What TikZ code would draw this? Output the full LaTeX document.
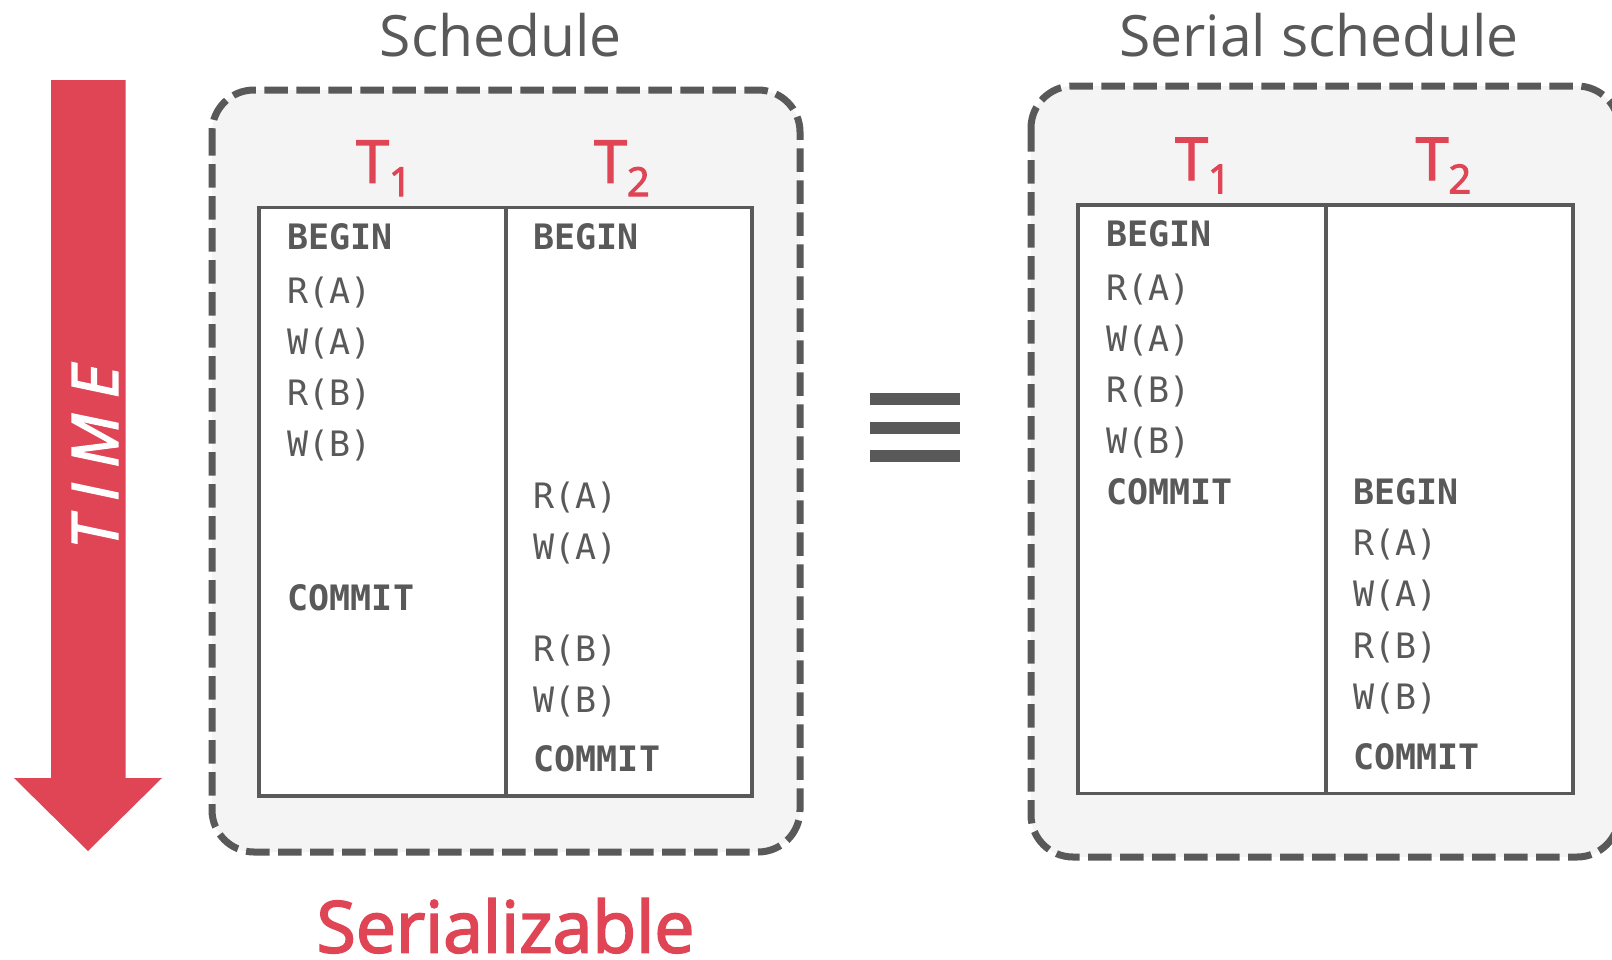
\documentclass[tikz,border=0pt]{standalone}
\usepackage{fontspec}
\setmainfont{Open Sans}
\newfontfamily\semibfont{Open Sans}[FakeBold=2.5]
\newfontfamily\monofont{DejaVu Sans Mono}
\definecolor{dbred}{RGB}{224,69,86}
\definecolor{dbgray}{RGB}{89,89,89}
\definecolor{dbfill}{RGB}{244,244,244}
\begin{document}
\begin{tikzpicture}[x=1pt,y=-1pt,
  schedbox/.style={draw=dbgray, fill=dbfill, line width=7pt, dash pattern=on 23.5pt off 8.5pt, rounded corners=42pt},
  tbl/.style={draw=dbgray, line width=3.5pt},
  op/.style={anchor=base west, inner sep=0pt, text=dbgray, font=\monofont\fontsize{35}{35}\selectfont},
  kw/.style={op, font=\monofont\bfseries\fontsize{35}{35}\selectfont},
  tlabel/.style={anchor=base, inner sep=0pt, text=dbred, font=\semibfont\fontsize{59}{59}\selectfont},
  title/.style={anchor=base, inner sep=0pt, text=dbgray, font=\fontsize{57}{57}\selectfont},
  eqbar/.style={fill=dbgray}
]
\useasboundingbox (0,0) rectangle (1612,959);
\clip (0,0) rectangle (1612,959);
\fill[white] (0,0) rectangle (1612,959);

% time arrow
\fill[dbred] (51,80) -- (125.5,80) -- (125.5,778) -- (162,778) -- (88,851) -- (14,778) -- (51,778) -- cycle;
\node[rotate=90, text=white, inner sep=0pt, font=\semibfont\itshape\fontsize{64}{64}\selectfont] (time) at (95,457) {T\hspace{16pt}I\hspace{16pt}M\hspace{16pt}E};

% left schedule
\node[title] (lt) at (500.6,56.5) {Schedule};
\draw[schedbox] (212,90) rectangle (800,852);
\draw[tbl, fill=white] (259,207.5) rectangle (752,796);
\draw[tbl] (506,207.5) -- (506,796);
\node[tlabel] (lT1) at (384,182.7) {T\raisebox{-13.3pt}{\fontsize{40}{40}\selectfont 1}};
\node[tlabel] (lT2) at (622,182.7) {T\raisebox{-13.3pt}{\fontsize{40}{40}\selectfont 2}};

\node[kw] (la1) at (287.5,249.3) {BEGIN};
\node[op] (la2) at (287.5,303.3) {R(A)};
\node[op] (la3) at (287.5,354.3) {W(A)};
\node[op] (la4) at (287.5,405.3) {R(B)};
\node[op] (la5) at (287.5,456.3) {W(B)};
\node[kw] (la6) at (287.5,610) {COMMIT};

\node[kw] (lb1) at (533.5,249.3) {BEGIN};
\node[op] (lb2) at (533.5,508) {R(A)};
\node[op] (lb3) at (533.5,559) {W(A)};
\node[op] (lb4) at (533.5,661.5) {R(B)};
\node[op] (lb5) at (533.5,712.5) {W(B)};
\node[kw] (lb6) at (533.5,771.5) {COMMIT};

% equivalence
\fill[eqbar] (870,393) rectangle (960,405);
\fill[eqbar] (870,421.5) rectangle (960,433.5);
\fill[eqbar] (870,450) rectangle (960,462);

% right schedule
\node[title] (rt) at (1319,56) {Serial schedule};
\draw[schedbox] (1031,86) rectangle (1619,857);
\draw[tbl, fill=white] (1078,205) rectangle (1573,793.3);
\draw[tbl] (1326,205) -- (1326,793.3);
\node[tlabel] (rT1) at (1203,180) {T\raisebox{-13.3pt}{\fontsize{40}{40}\selectfont 1}};
\node[tlabel] (rT2) at (1443.5,180) {T\raisebox{-13.3pt}{\fontsize{40}{40}\selectfont 2}};

\node[kw] (ra1) at (1106,246.5) {BEGIN};
\node[op] (ra2) at (1106,300) {R(A)};
\node[op] (ra3) at (1106,351) {W(A)};
\node[op] (ra4) at (1106,402) {R(B)};
\node[op] (ra5) at (1106,453) {W(B)};
\node[kw] (ra6) at (1106,504.5) {COMMIT};

\node[kw] (rb1) at (1353,504.5) {BEGIN};
\node[op] (rb2) at (1353,555.5) {R(A)};
\node[op] (rb3) at (1353,606.5) {W(A)};
\node[op] (rb4) at (1353,658) {R(B)};
\node[op] (rb5) at (1353,709) {W(B)};
\node[kw] (rb6) at (1353,769.5) {COMMIT};

% caption
\node[anchor=base, inner sep=0pt, text depth=0pt, text=dbred, font=\semibfont\fontsize{71.5}{71.5}\selectfont] (cap) at (505.5,952.5) {Serializable};
\end{tikzpicture}
\end{document}
